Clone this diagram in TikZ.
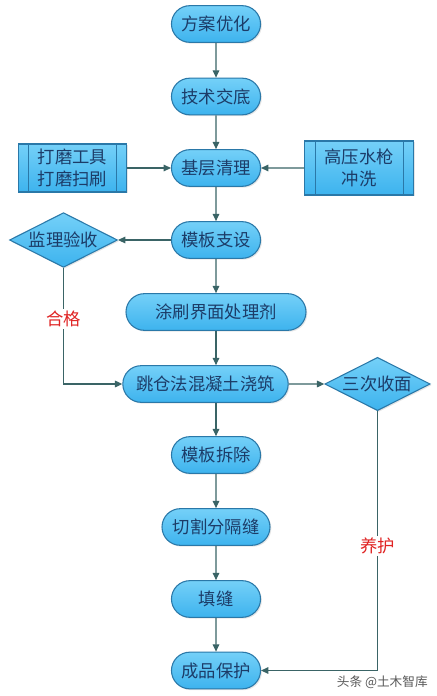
\documentclass[tikz,border=0pt]{standalone}
\usepackage{fontspec}
\usepackage{xcolor}
\usetikzlibrary{shapes.misc,shapes.geometric,arrows.meta,shadows}
\setmainfont{Noto Sans CJK SC}
\definecolor{flFill}{HTML}{3DB3EE}
\definecolor{flTop}{HTML}{74D0F8}
\definecolor{flLine}{HTML}{2A78A8}
\definecolor{flText}{HTML}{1C3C68}
\definecolor{flArrow}{HTML}{3A6466}
\definecolor{flRed}{HTML}{E02424}
\tikzset{
  base/.style={draw=flLine,line width=0.8pt,top color=flTop,bottom color=flFill,
    text=flText,font=\fontsize{13}{16.5}\selectfont,inner sep=0pt,
    drop shadow={opacity=0.2,shadow xshift=1pt,shadow yshift=-1pt}},
  proc/.style={base,rounded rectangle,minimum width=66.8pt,minimum height=27.5pt},
  tool/.style={base,rectangle,minimum width=81.5pt,align=center},
  check/.style={base,diamond,aspect=2,minimum width=81pt,minimum height=41pt},
  flow/.style={draw=flArrow,line width=0.8pt,-{Triangle[width=5pt,length=5.5pt]}},
  note/.style={text=flRed,font=\fontsize{13}{15}\selectfont,fill=white,inner sep=1.5pt}
}
\begin{document}
\begin{tikzpicture}[x=0.75pt,y=-0.75pt]
\useasboundingbox[fill=white](0,0) rectangle (436,696);
% main column
\node[proc] (youhua) at (216,24) {方案优化};
\node[proc] (jiaodi) at (216,96.5) {技术交底};
\node[proc] (qingli) at (216,168) {基层清理};
\node[proc] (zhishe) at (216,240) {模板支设};
\node[proc,minimum width=135pt] (tushua) at (216,312) {涂刷界面处理剂};
\node[proc,minimum width=124pt] (jiaozhu) at (205.5,384) {跳仓法混凝土浇筑};
\node[proc] (chaichu) at (216,455) {模板拆除};
\node[proc,minimum width=81pt] (qiege) at (216,527) {切割分隔缝};
\node[proc] (tianfeng) at (216,599) {填缝};
\node[proc] (baohu) at (216,670.5) {成品保护};
% side boxes
\node[tool,minimum height=36pt] (damo) at (72.5,168) {打磨工具\\打磨扫刷};
\node[tool,minimum height=40.5pt] (shuiqiang) at (359,168) {高压水枪\\冲洗};
\foreach \b in {damo,shuiqiang}{
  \draw[flLine,line width=0.6pt] ([xshift=8.2pt]\b.north west) -- ([xshift=8.2pt]\b.south west);
  \draw[flLine,line width=0.6pt] ([xshift=-8.2pt]\b.north east) -- ([xshift=-8.2pt]\b.south east);
}
% checks
\node[check] (yanshou) at (63.5,240) {监理验收};
\node[check,minimum width=79pt,minimum height=40pt] (shoumian) at (377.5,384) {三次收面};
% connectors
\draw[flow] (youhua) -- (jiaodi);
\draw[flow] (jiaodi) -- (qingli);
\draw[flow] (damo) -- (qingli);
\draw[flow] (shuiqiang) -- (qingli);
\draw[flow] (qingli) -- (zhishe);
\draw[flow] (zhishe) -- (yanshou);
\draw[flow] (zhishe) -- (tushua);
\draw[flow] (tushua.south) -- (tushua.south |- jiaozhu.north);
\draw[flow] (yanshou.south) |- node[note,pos=0.22]{合格} (jiaozhu.west);
\draw[flow] (jiaozhu) -- (shoumian);
\draw[flow] (chaichu.north |- jiaozhu.south) -- (chaichu.north);
\draw[flow] (chaichu) -- (qiege);
\draw[flow] (qiege) -- (tianfeng);
\draw[flow] (tianfeng) -- (baohu);
\draw[flow] (shoumian.south) |- node[note,pos=0.26]{养护} (baohu.east);
% watermark
\node[text=black!65,font=\fontsize{9.5}{11}\selectfont,anchor=east,inner sep=0pt] (mark) at (428,682) {头条 @土木智库};
\end{tikzpicture}
\end{document}
